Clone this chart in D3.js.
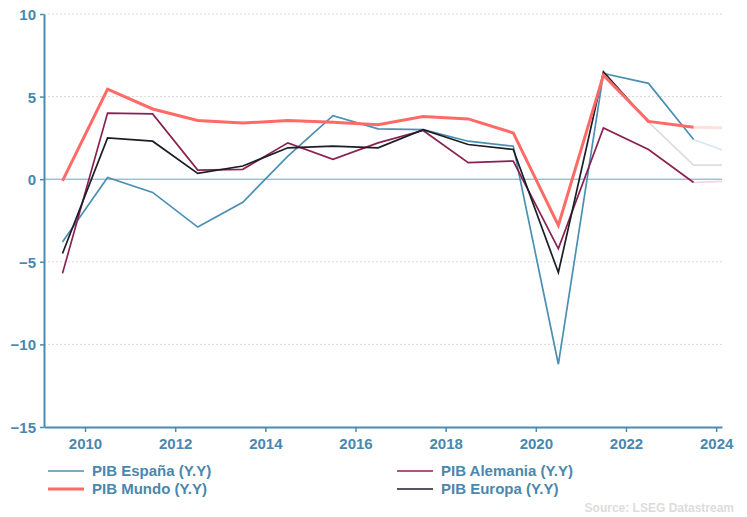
<!DOCTYPE html>
<html>
<head>
<meta charset="utf-8">
<script src="https://cdn.jsdelivr.net/npm/d3@7"></script>
<style>
  body { margin: 0; background: #fff; }
  svg { display: block; font-family: "Liberation Sans", Arial, sans-serif; }
</style>
</head>
<body>
<svg id="chart" width="747" height="517"></svg>
<script>
// data (annual GDP growth, %, plotted at mid-year)
var years = [2009, 2010, 2011, 2012, 2013, 2014, 2015, 2016, 2017, 2018, 2019, 2020, 2021, 2022, 2023];
var espana   = [-3.8, 0.1, -0.8, -2.9, -1.4, 1.4, 3.85, 3.05, 3.0, 2.3, 2.0, -11.2, 6.4, 5.8, 2.4];
var mundo    = [-0.1, 5.45, 4.25, 3.55, 3.4, 3.55, 3.45, 3.3, 3.8, 3.65, 2.8, -2.8, 6.3, 3.5, 3.15];
var alemania = [-5.7, 4.0, 3.95, 0.55, 0.6, 2.2, 1.2, 2.2, 2.95, 1.0, 1.1, -4.2, 3.1, 1.8, -0.2];
var europa   = [-4.5, 2.5, 2.3, 0.35, 0.8, 1.9, 2.0, 1.9, 3.0, 2.1, 1.8, -5.65, 6.5, 3.45, null];

// faint forecast extensions
var espanaFYears = [2023, 2024],       espanaF = [2.4, 1.4];
var mundoFYears = [2023, 2024],        mundoF = [3.15, 3.1];
var alemaniaFYears = [2023, 2024],     alemaniaF = [-0.2, -0.1];
var europaFYears = [2022, 2023, 2024], europaF = [3.45, 0.85, 0.85];

var yTicks = [10, 5, 0, -5, -10, -15];
var xTicks = [2010, 2012, 2014, 2016, 2018, 2020, 2022, 2024];

var series = [
  {name: "PIB España (Y.Y)",   vals: espana,   fy: espanaFYears,   fv: espanaF,   color: "#4b8fb3", fcolor: "#d6e7f1", w: 1.7},
  {name: "PIB Alemania (Y.Y)", vals: alemania, fy: alemaniaFYears, fv: alemaniaF, color: "#8a2150", fcolor: "#f2d3de", w: 1.7},
  {name: "PIB Europa (Y.Y)",   vals: europa,   fy: europaFYears,   fv: europaF,   color: "#1b1d27", fcolor: "#dddddd", w: 1.7},
  {name: "PIB Mundo (Y.Y)",    vals: mundo,    fy: mundoFYears,    fv: mundoF,    color: "#ff6a67", fcolor: "#ffe0df", w: 3}
];

var svg = d3.select("#chart");
var axisColor = "#4a8bb0";

var x = d3.scaleLinear().domain([2009.09, 2024.13]).range([44, 722]);
var y = d3.scaleLinear().domain([-15, 10]).range([427, 14]);

svg.append("clipPath").attr("id", "plotclip")
  .append("rect").attr("x", 44).attr("y", 0).attr("width", 678).attr("height", 430);

// gridlines
svg.append("g").selectAll("line")
  .data(yTicks.filter(d => d !== 0 && d !== -15))
  .enter().append("line")
    .attr("x1", 44).attr("x2", 722)
    .attr("y1", d => y(d)).attr("y2", d => y(d))
    .attr("stroke", "#d9d9d9")
    .attr("stroke-dasharray", "2,2");

// zero line
svg.append("line")
  .attr("x1", 44).attr("x2", 722)
  .attr("y1", y(0)).attr("y2", y(0))
  .attr("stroke", "#6fa3c2").attr("stroke-width", 1);

// axes
var yAxis = svg.append("g")
  .attr("transform", "translate(44,0)")
  .call(d3.axisLeft(y).tickValues(yTicks).tickSize(4).tickSizeOuter(0));
var xAxis = svg.append("g")
  .attr("transform", "translate(0,427)")
  .call(d3.axisBottom(x).tickValues(xTicks).tickFormat(d3.format("d")).tickSize(5).tickSizeOuter(0));

[yAxis, xAxis].forEach(function(a) {
  a.select(".domain").attr("stroke", axisColor).attr("stroke-width", 2);
  a.selectAll(".tick line").attr("stroke", axisColor).attr("stroke-width", 1.5);
  a.selectAll(".tick text")
    .attr("fill", "#4a87ad")
    .style("font-size", "15px")
    .style("font-weight", "bold");
});
yAxis.selectAll(".tick text").attr("x", -8).attr("dy", "0.36em");
xAxis.selectAll(".tick text").attr("y", 11).attr("dy", "0.71em");

var line = d3.line()
  .defined(d => d[1] !== null)
  .x(d => x(d[0] + 0.5))
  .y(d => y(d[1]));

var plot = svg.append("g").attr("clip-path", "url(#plotclip)");

// forecast extensions first (underneath)
series.forEach(function(s) {
  plot.append("path")
    .datum(s.fy.map((yr, i) => [yr, s.fv[i]]))
    .attr("fill", "none")
    .attr("stroke", s.fcolor)
    .attr("stroke-width", s.w)
    .attr("d", line);
});

series.forEach(function(s) {
  plot.append("path")
    .datum(years.map((yr, i) => [yr, s.vals[i]]))
    .attr("fill", "none")
    .attr("stroke", s.color)
    .attr("stroke-width", s.w)
    .attr("stroke-linejoin", "miter")
    .attr("d", line);
});

// legend
var legendItems = [
  {s: series[0], lx: 48,  ly: 471},
  {s: series[3], lx: 48,  ly: 489},
  {s: series[1], lx: 397, ly: 471},
  {s: series[2], lx: 397, ly: 489}
];
var legend = svg.selectAll(".legend")
  .data(legendItems)
  .enter().append("g")
  .attr("class", "legend")
  .attr("transform", d => "translate(" + d.lx + "," + d.ly + ")");

legend.append("line")
  .attr("x1", 0).attr("x2", 36)
  .attr("y1", 0).attr("y2", 0)
  .attr("stroke", d => d.s.color)
  .attr("stroke-width", d => d.s.w);

legend.append("text")
  .attr("x", 44)
  .attr("dy", "0.35em")
  .attr("fill", "#4a87ad")
  .style("font-size", "15px")
  .style("font-weight", "bold")
  .text(d => d.s.name);

svg.append("text")
  .attr("x", 734).attr("y", 512)
  .attr("text-anchor", "end")
  .attr("fill", "#dcdcdc")
  .style("font-size", "12px")
  .style("font-weight", "bold")
  .text("Source: LSEG Datastream");
</script>
</body>
</html>
